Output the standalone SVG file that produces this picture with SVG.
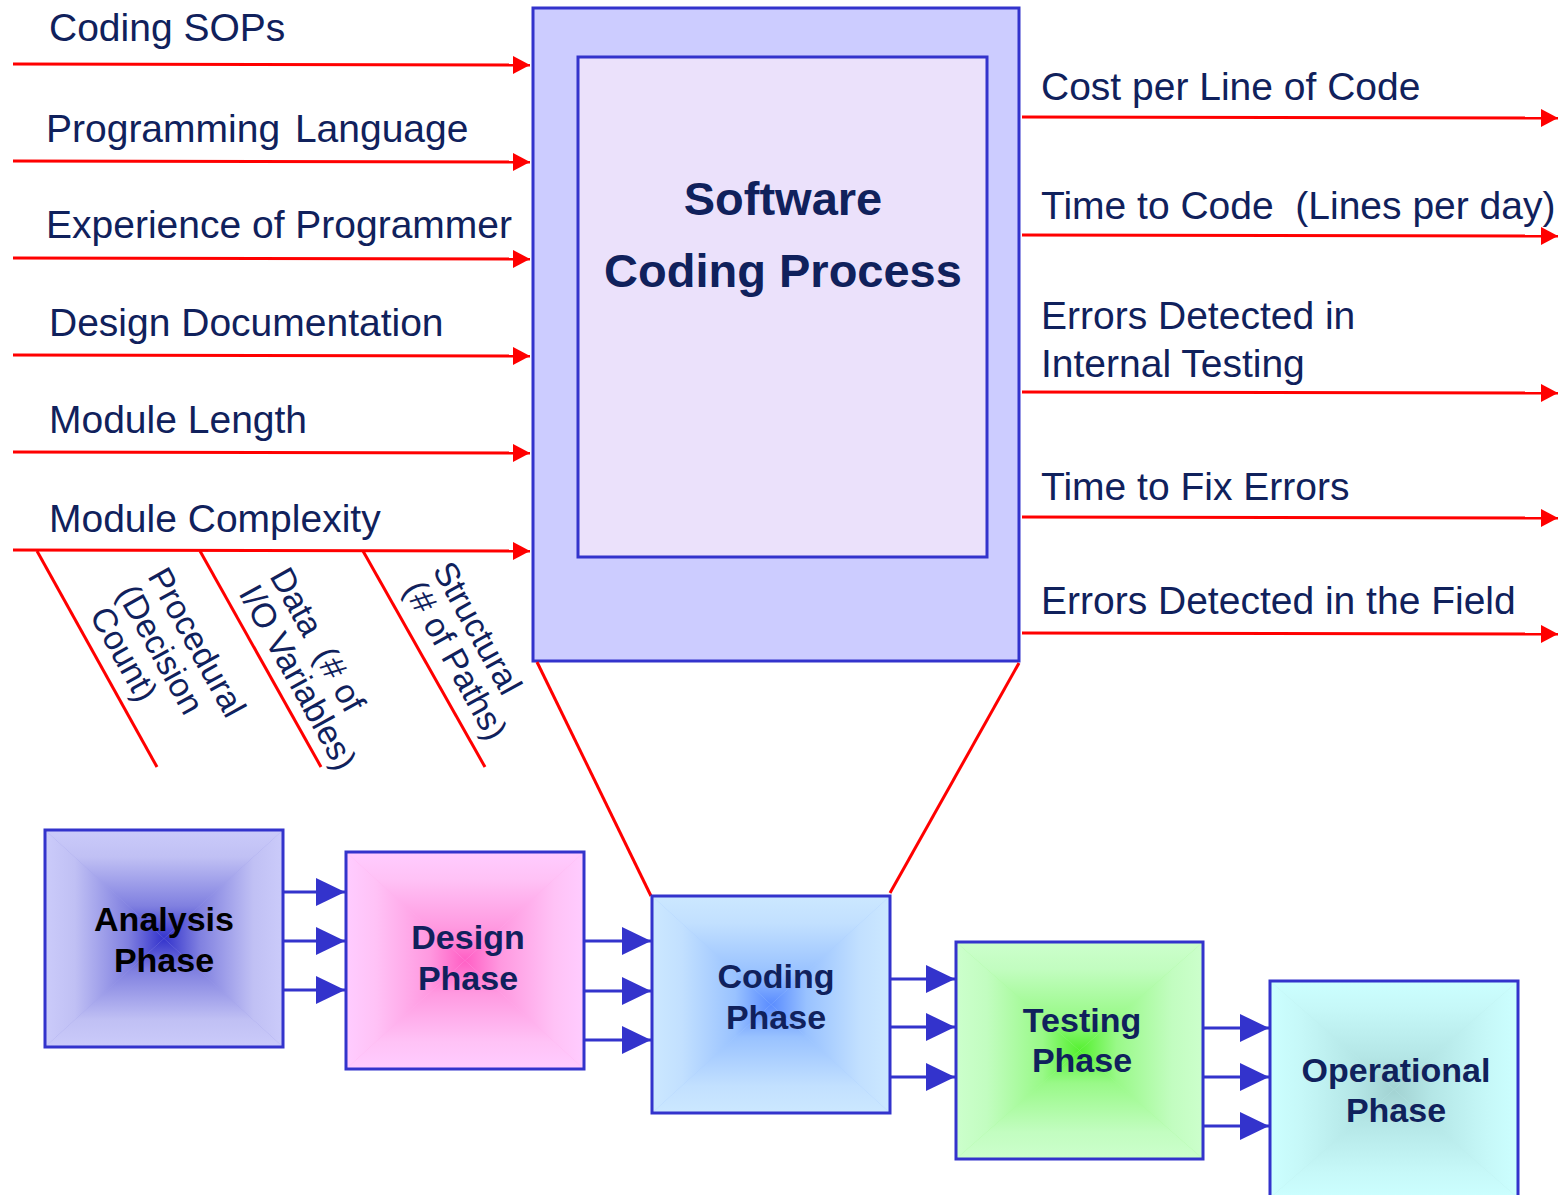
<svg xmlns="http://www.w3.org/2000/svg" xmlns:xlink="http://www.w3.org/1999/xlink" width="1568" height="1195" viewBox="0 0 1568 1195">
  <style>
    .lbl { font-family: "Liberation Sans", Arial, sans-serif; font-size: 39px; fill: #10215c; }
    .diag { font-family: "Liberation Sans", Arial, sans-serif; font-size: 34px; fill: #10215c; }
    .title { font-family: "Liberation Sans", Arial, sans-serif; font-size: 47px; font-weight: bold; fill: #10215c; text-anchor: middle; }
    .phase { font-family: "Liberation Sans", Arial, sans-serif; font-size: 34px; font-weight: bold; fill: #10215c; text-anchor: middle; }
    .red { stroke: #ff0000; stroke-width: 3; fill: none; }
    .redarrow { stroke: #ff0000; stroke-width: 3; fill: none; marker-end: url(#redHead); }
    .bluearrow { stroke: #3333cc; stroke-width: 3; fill: none; marker-end: url(#blueHead); }
    .frame { fill: none; stroke: #3333cc; stroke-width: 3; }
  </style>
  <defs>
    <marker id="redHead" markerUnits="userSpaceOnUse" markerWidth="18" markerHeight="18" refX="17" refY="9" orient="auto">
      <path d="M0,0 L17,9 L0,18 Z" fill="#ff0000"/>
    </marker>
    <marker id="blueHead" markerUnits="userSpaceOnUse" markerWidth="30" markerHeight="28" refX="29" refY="14" orient="auto">
      <path d="M0,0 L29,14 L0,28 Z" fill="#3333cc"/>
    </marker>

    <!-- rectangular "from centre" fills: one ramp per box, reused by four triangles -->
    <linearGradient id="gA"><stop offset="0" stop-color="#cbcbfa"/><stop offset="0.25" stop-color="#c0c0f4"/><stop offset="0.7" stop-color="#8080e0"/><stop offset="1" stop-color="#3333cc"/></linearGradient>
    <linearGradient id="gD"><stop offset="0" stop-color="#ffccff"/><stop offset="0.25" stop-color="#ffc2f6"/><stop offset="0.7" stop-color="#ff99e0"/><stop offset="1" stop-color="#ff5fc4"/></linearGradient>
    <linearGradient id="gC"><stop offset="0" stop-color="#cce8ff"/><stop offset="0.25" stop-color="#c2e0ff"/><stop offset="0.7" stop-color="#99c2ff"/><stop offset="1" stop-color="#5a8cff"/></linearGradient>
    <linearGradient id="gT"><stop offset="0" stop-color="#ccffcc"/><stop offset="0.25" stop-color="#c2fdc0"/><stop offset="0.7" stop-color="#99f988"/><stop offset="1" stop-color="#55f030"/></linearGradient>
    <linearGradient id="gO"><stop offset="0" stop-color="#ccffff"/><stop offset="0.25" stop-color="#c6f8f8"/><stop offset="0.7" stop-color="#b4e6e6"/><stop offset="1" stop-color="#a2d2d2"/></linearGradient>

    <linearGradient id="gA-t" href="#gA" xlink:href="#gA" x1="0" y1="0" x2="0" y2="1"/>
    <linearGradient id="gA-b" href="#gA" xlink:href="#gA" x1="0" y1="1" x2="0" y2="0"/>
    <linearGradient id="gA-l" href="#gA" xlink:href="#gA" x1="0" y1="0" x2="1" y2="0"/>
    <linearGradient id="gA-r" href="#gA" xlink:href="#gA" x1="1" y1="0" x2="0" y2="0"/>
    <linearGradient id="gD-t" href="#gD" xlink:href="#gD" x1="0" y1="0" x2="0" y2="1"/>
    <linearGradient id="gD-b" href="#gD" xlink:href="#gD" x1="0" y1="1" x2="0" y2="0"/>
    <linearGradient id="gD-l" href="#gD" xlink:href="#gD" x1="0" y1="0" x2="1" y2="0"/>
    <linearGradient id="gD-r" href="#gD" xlink:href="#gD" x1="1" y1="0" x2="0" y2="0"/>
    <linearGradient id="gC-t" href="#gC" xlink:href="#gC" x1="0" y1="0" x2="0" y2="1"/>
    <linearGradient id="gC-b" href="#gC" xlink:href="#gC" x1="0" y1="1" x2="0" y2="0"/>
    <linearGradient id="gC-l" href="#gC" xlink:href="#gC" x1="0" y1="0" x2="1" y2="0"/>
    <linearGradient id="gC-r" href="#gC" xlink:href="#gC" x1="1" y1="0" x2="0" y2="0"/>
    <linearGradient id="gT-t" href="#gT" xlink:href="#gT" x1="0" y1="0" x2="0" y2="1"/>
    <linearGradient id="gT-b" href="#gT" xlink:href="#gT" x1="0" y1="1" x2="0" y2="0"/>
    <linearGradient id="gT-l" href="#gT" xlink:href="#gT" x1="0" y1="0" x2="1" y2="0"/>
    <linearGradient id="gT-r" href="#gT" xlink:href="#gT" x1="1" y1="0" x2="0" y2="0"/>
    <linearGradient id="gO-t" href="#gO" xlink:href="#gO" x1="0" y1="0" x2="0" y2="1"/>
    <linearGradient id="gO-b" href="#gO" xlink:href="#gO" x1="0" y1="1" x2="0" y2="0"/>
    <linearGradient id="gO-l" href="#gO" xlink:href="#gO" x1="0" y1="0" x2="1" y2="0"/>
    <linearGradient id="gO-r" href="#gO" xlink:href="#gO" x1="1" y1="0" x2="0" y2="0"/>
  </defs>

  <rect width="1568" height="1195" fill="#ffffff"/>

  <!-- central process block -->
  <g id="process">
    <rect x="533" y="8" width="486" height="653" fill="#ccccff" stroke="#3333cc" stroke-width="3"/>
    <rect x="578" y="57" width="409" height="500" fill="#ebe1fb" stroke="#3333cc" stroke-width="3"/>
    <text class="title" x="783" y="215">Software</text>
    <text class="title" x="783" y="287">Coding Process</text>
  </g>

  <g id="connectors">
    <!-- inputs -->
    <line class="redarrow" x1="13" y1="64" x2="530" y2="65"/>
    <line class="redarrow" x1="13" y1="161" x2="530" y2="162"/>
    <line class="redarrow" x1="13" y1="258" x2="530" y2="259"/>
    <line class="redarrow" x1="13" y1="355" x2="530" y2="356"/>
    <line class="redarrow" x1="13" y1="452" x2="530" y2="453"/>
    <line class="redarrow" x1="13" y1="550" x2="530" y2="551"/>
    <!-- complexity branches -->
    <line class="red" x1="37" y1="551" x2="157" y2="767"/>
    <line class="red" x1="200" y1="551" x2="321" y2="767"/>
    <line class="red" x1="363" y1="551" x2="485" y2="767"/>
    <!-- outputs -->
    <line class="redarrow" x1="1022" y1="117" x2="1558" y2="118"/>
    <line class="redarrow" x1="1022" y1="235" x2="1558" y2="236"/>
    <line class="redarrow" x1="1022" y1="392" x2="1558" y2="393"/>
    <line class="redarrow" x1="1022" y1="517" x2="1558" y2="518"/>
    <line class="redarrow" x1="1022" y1="633" x2="1558" y2="634"/>
    <!-- zoom-out lines to the coding phase -->
    <line class="red" x1="537" y1="662" x2="651" y2="896"/>
    <line class="red" x1="1019" y1="663" x2="890" y2="893"/>
    <!-- phase-to-phase flows -->
    <line class="bluearrow" x1="283" y1="892" x2="345" y2="892"/>
    <line class="bluearrow" x1="283" y1="941" x2="345" y2="941"/>
    <line class="bluearrow" x1="283" y1="990" x2="345" y2="990"/>
    <line class="bluearrow" x1="584" y1="941" x2="651" y2="941"/>
    <line class="bluearrow" x1="584" y1="991" x2="651" y2="991"/>
    <line class="bluearrow" x1="584" y1="1040" x2="651" y2="1040"/>
    <line class="bluearrow" x1="890" y1="979" x2="955" y2="979"/>
    <line class="bluearrow" x1="890" y1="1027" x2="955" y2="1027"/>
    <line class="bluearrow" x1="890" y1="1077" x2="955" y2="1077"/>
    <line class="bluearrow" x1="1203" y1="1028" x2="1269" y2="1028"/>
    <line class="bluearrow" x1="1203" y1="1077" x2="1269" y2="1077"/>
    <line class="bluearrow" x1="1203" y1="1126" x2="1269" y2="1126"/>
  </g>

  <g id="inputs">
    <text class="lbl" x="49" y="41">Coding SOPs</text>
    <text class="lbl" x="46" y="142">Programming <tspan dx="4">Language</tspan></text>
    <text class="lbl" x="46" y="238">Experience of Programmer</text>
    <text class="lbl" x="49" y="336">Design Documentation</text>
    <text class="lbl" x="49" y="433">Module Length</text>
    <text class="lbl" x="49" y="532">Module Complexity</text>
  </g>

  <g id="complexity-measures">
    <text class="diag" transform="translate(147,576) rotate(61)">Procedural</text>
    <text class="diag" transform="translate(116,593) rotate(61)">(Decision</text>
    <text class="diag" transform="translate(89,615) rotate(61)">Count)</text>
    <text class="diag" transform="translate(269,576) rotate(61)" xml:space="preserve">Data  (# of</text>
    <text class="diag" transform="translate(238,593) rotate(61)">I/O Variables)</text>
    <text class="diag" transform="translate(432,570) rotate(61)">Structural</text>
    <text class="diag" transform="translate(403,589) rotate(61)">(# of Paths)</text>
  </g>

  <g id="outputs">
    <text class="lbl" x="1041" y="100">Cost per Line of Code</text>
    <text class="lbl" x="1041" y="219" xml:space="preserve">Time to Code  (Lines per day)</text>
    <text class="lbl" x="1041" y="329">Errors Detected in</text>
    <text class="lbl" x="1041" y="377">Internal Testing</text>
    <text class="lbl" x="1041" y="500">Time to Fix Errors</text>
    <text class="lbl" x="1041" y="614">Errors Detected in the Field</text>
  </g>

  <!-- life-cycle phases -->
  <g id="analysis-phase">
    <rect x="45" y="830" width="238" height="217" fill="#a0a0ea"/>
    <polygon points="45,830 283,830 164,938.5" fill="url(#gA-t)"/>
    <polygon points="283,830 283,1047 164,938.5" fill="url(#gA-r)"/>
    <polygon points="283,1047 45,1047 164,938.5" fill="url(#gA-b)"/>
    <polygon points="45,1047 45,830 164,938.5" fill="url(#gA-l)"/>
    <rect class="frame" x="45" y="830" width="238" height="217"/>
    <text class="phase" x="164" y="931" style="fill:#000000">Analysis</text>
    <text class="phase" x="164" y="972" style="fill:#000000">Phase</text>
  </g>

  <g id="design-phase">
    <rect x="346" y="852" width="238" height="217" fill="#ffb0ee"/>
    <polygon points="346,852 584,852 465,960.5" fill="url(#gD-t)"/>
    <polygon points="584,852 584,1069 465,960.5" fill="url(#gD-r)"/>
    <polygon points="584,1069 346,1069 465,960.5" fill="url(#gD-b)"/>
    <polygon points="346,1069 346,852 465,960.5" fill="url(#gD-l)"/>
    <rect class="frame" x="346" y="852" width="238" height="217"/>
    <text class="phase" x="468" y="949">Design</text>
    <text class="phase" x="468" y="990">Phase</text>
  </g>

  <g id="coding-phase">
    <rect x="652" y="896" width="238" height="217" fill="#a8ccff"/>
    <polygon points="652,896 890,896 771,1004.5" fill="url(#gC-t)"/>
    <polygon points="890,896 890,1113 771,1004.5" fill="url(#gC-r)"/>
    <polygon points="890,1113 652,1113 771,1004.5" fill="url(#gC-b)"/>
    <polygon points="652,1113 652,896 771,1004.5" fill="url(#gC-l)"/>
    <rect class="frame" x="652" y="896" width="238" height="217"/>
    <text class="phase" x="776" y="988">Coding</text>
    <text class="phase" x="776" y="1029">Phase</text>
  </g>

  <g id="testing-phase">
    <rect x="956" y="942" width="247" height="217" fill="#a8fa9a"/>
    <polygon points="956,942 1203,942 1079.5,1050.5" fill="url(#gT-t)"/>
    <polygon points="1203,942 1203,1159 1079.5,1050.5" fill="url(#gT-r)"/>
    <polygon points="1203,1159 956,1159 1079.5,1050.5" fill="url(#gT-b)"/>
    <polygon points="956,1159 956,942 1079.5,1050.5" fill="url(#gT-l)"/>
    <rect class="frame" x="956" y="942" width="247" height="217"/>
    <text class="phase" x="1082" y="1032">Testing</text>
    <text class="phase" x="1082" y="1072">Phase</text>
  </g>

  <g id="operational-phase">
    <rect x="1270" y="981" width="248" height="217" fill="#bcecec"/>
    <polygon points="1270,981 1518,981 1394,1089.5" fill="url(#gO-t)"/>
    <polygon points="1518,981 1518,1198 1394,1089.5" fill="url(#gO-r)"/>
    <polygon points="1518,1198 1270,1198 1394,1089.5" fill="url(#gO-b)"/>
    <polygon points="1270,1198 1270,981 1394,1089.5" fill="url(#gO-l)"/>
    <rect class="frame" x="1270" y="981" width="248" height="217"/>
    <text class="phase" x="1396" y="1082">Operational</text>
    <text class="phase" x="1396" y="1122">Phase</text>
  </g>
</svg>
